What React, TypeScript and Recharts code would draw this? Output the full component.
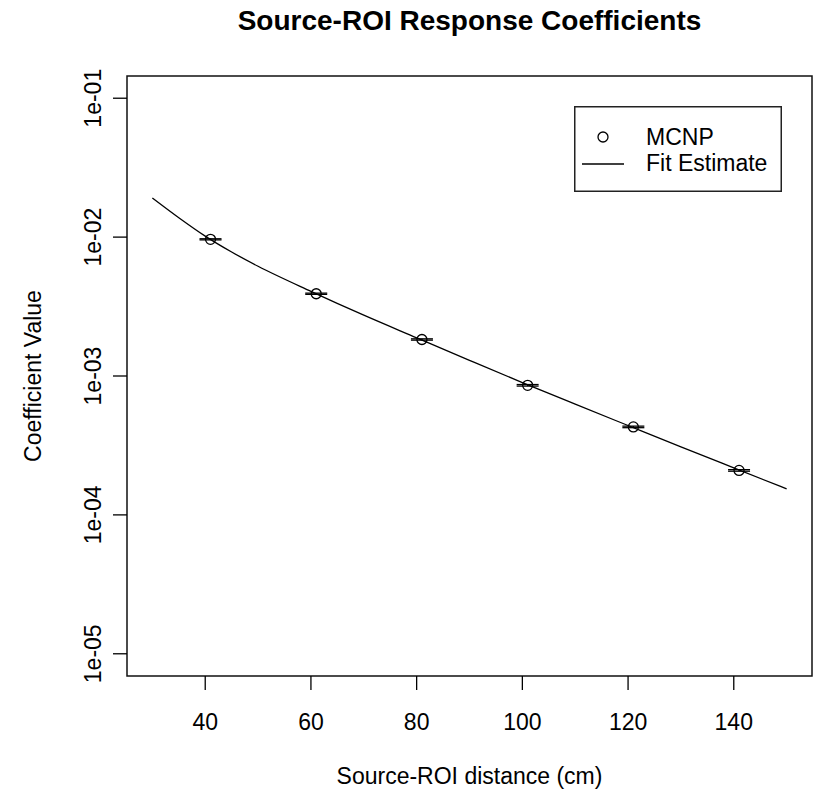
import React from 'react';
import { ComposedChart, Scatter, Line, XAxis, YAxis, ErrorBar, Legend, Label, ReferenceArea } from 'recharts';

// MCNP coefficients at each source-ROI distance (cm)
const distances = [41, 61, 81, 101, 121, 141];
const mcnpValues = [0.00964, 0.00391, 0.001832, 0.000857, 0.00043, 0.000209];
const mcnpErrors = [0.00009, 0.00004, 0.00002, 0.000011, 0.0000055, 0.0000027];

// fitted response curve
const fitDistances = [30, 35, 40, 45, 50, 60, 70, 80, 90, 100, 110, 120, 130, 140, 150];
const fitValues = [
  0.01914, 0.0138, 0.01017, 0.00781, 0.00617, 0.00407, 0.00274, 0.001884,
  0.001297, 0.000897, 0.000627, 0.00044, 0.000309, 0.000218, 0.000154,
];

const xTicks = [40, 60, 80, 100, 120, 140];
const yTicks = [1e-5, 1e-4, 1e-3, 1e-2, 1e-1];
const yTickLabels = ['1e-05', '1e-04', '1e-03', '1e-02', '1e-01'];

const X_DOMAIN = [25.2, 154.8];
const Y_DOMAIN = [Math.pow(10, -5.16), Math.pow(10, -0.84)];

const FONT = '"Liberation Sans", Arial, sans-serif';
const INK = '#000';

const mcnpData = distances.map((x, i) => ({ x, y: mcnpValues[i], err: mcnpErrors[i] }));
const fitData = fitDistances.map((x, i) => ({ x, y: fitValues[i] }));

const YTick = ({ x, y, payload }: any) => {
  let idx = 0;
  yTicks.forEach((t, i) => {
    if (Math.abs(Math.log10(t) - Math.log10(payload.value)) < 0.01) idx = i;
  });
  return (
    <text x={x} y={y} transform={`rotate(-90, ${x}, ${y})`} textAnchor="middle" fontSize={23} fill={INK}>
      {yTickLabels[idx]}
    </text>
  );
};

const XTitle = ({ viewBox }: any) => (
  <text x={viewBox.x + viewBox.width / 2} y={viewBox.y + 108} textAnchor="middle" fontSize={23} fill={INK}>
    Source-ROI distance (cm)
  </text>
);

const YTitle = ({ viewBox }: any) => {
  const cx = 41;
  const cy = viewBox.y + viewBox.height / 2;
  return (
    <text x={cx} y={cy} transform={`rotate(-90, ${cx}, ${cy})`} textAnchor="middle" fontSize={23} fill={INK}>
      Coefficient Value
    </text>
  );
};

const LegendBox = ({ payload }: any) => {
  // points entry first, then the fitted line
  const items = [...(payload || [])].sort(
    (a: any, b: any) => (a.type === 'line' ? 1 : 0) - (b.type === 'line' ? 1 : 0)
  );
  return (
    <svg width={208} height={86} style={{ display: 'block' }}>
      <rect x={0.75} y={0.75} width={206.5} height={84.5} fill="#fff" stroke="#222" strokeWidth={1.5} />
      {items.map((entry: any, i: number) => {
        const cy = 31 + i * 27;
        return (
          <g key={entry.value}>
            {entry.type === 'line' ? (
              <line x1={8} x2={50} y1={cy} y2={cy} stroke={INK} strokeWidth={1.3} />
            ) : (
              <circle cx={29} cy={cy} r={5} fill="none" stroke={INK} strokeWidth={1.3} />
            )}
            <text x={72} y={39 + i * 26} fontSize={23} fill={INK}>
              {entry.value}
            </text>
          </g>
        );
      })}
    </svg>
  );
};

export default function App() {
  return (
    <div
      style={{
        position: 'absolute',
        left: 0,
        top: 0,
        width: 814,
        height: 789,
        background: '#fff',
        fontFamily: FONT,
      }}
    >
      <div
        style={{
          position: 'absolute',
          left: 127,
          width: 685,
          top: 5,
          lineHeight: '32px',
          fontSize: 28,
          fontWeight: 'bold',
          textAlign: 'center',
          color: INK,
        }}
      >
        Source-ROI Response Coefficients
      </div>
      <ComposedChart width={814} height={789} margin={{ top: 76, right: 2, bottom: 0, left: 0 }}>
        <XAxis
          xAxisId="main"
          type="number"
          dataKey="x"
          domain={X_DOMAIN}
          ticks={xTicks}
          allowDataOverflow
          height={113}
          axisLine={false}
          stroke={INK}
          strokeWidth={1.3}
          tickSize={14}
          tickMargin={24}
          tick={{ fontSize: 23, fill: INK }}
        >
          <Label content={XTitle} />
        </XAxis>
        <YAxis
          yAxisId="main"
          type="number"
          scale="log"
          domain={Y_DOMAIN}
          ticks={yTicks}
          allowDataOverflow
          width={127}
          axisLine={false}
          stroke={INK}
          strokeWidth={1.3}
          tickSize={14}
          tickMargin={12}
          tick={YTick}
        >
          <Label content={YTitle} />
        </YAxis>
        {/* plot frame */}
        <ReferenceArea
          xAxisId="main"
          yAxisId="main"
          x1={X_DOMAIN[0]}
          x2={X_DOMAIN[1]}
          y1={Y_DOMAIN[0]}
          y2={Y_DOMAIN[1]}
          fill="none"
          fillOpacity={0}
          stroke="#111"
          strokeWidth={1.5}
          ifOverflow="visible"
        />
        <Scatter
          name="MCNP"
          data={mcnpData}
          xAxisId="main"
          yAxisId="main"
          dataKey="y"
          isAnimationActive={false}
          shape={(p: any) => <circle cx={p.cx} cy={p.cy} r={5} fill="none" stroke={INK} strokeWidth={1.3} />}
        >
          <ErrorBar dataKey="err" direction="y" width={11} stroke={INK} strokeWidth={1.3} isAnimationActive={false} />
        </Scatter>
        <Line
          name="Fit Estimate"
          data={fitData}
          xAxisId="main"
          yAxisId="main"
          dataKey="y"
          type="monotone"
          stroke={INK}
          strokeWidth={1.3}
          dot={false}
          activeDot={false}
          legendType="line"
          isAnimationActive={false}
        />
        <Legend
          layout="vertical"
          verticalAlign="middle"
          align="center"
          content={LegendBox}
          wrapperStyle={{ left: 574, top: 106, width: 208, height: 86 }}
        />
      </ComposedChart>
    </div>
  );
}
